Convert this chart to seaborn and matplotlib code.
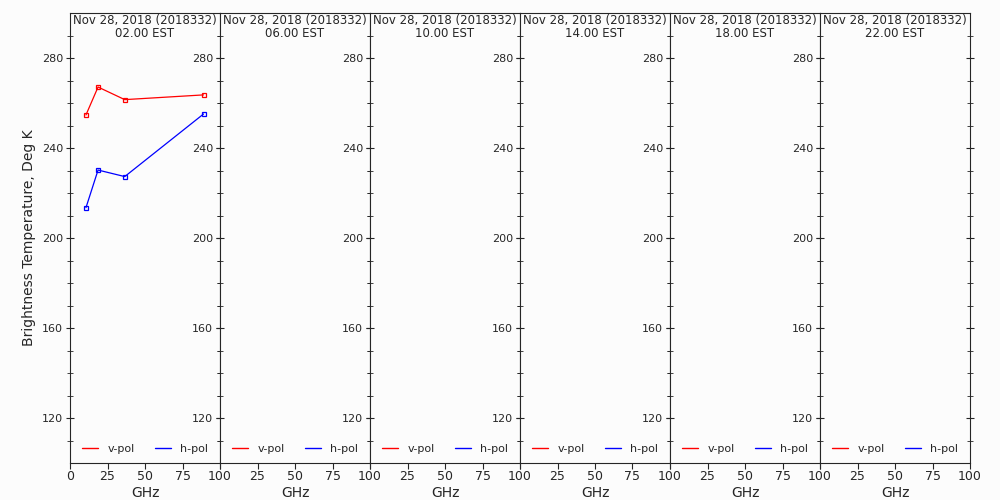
import matplotlib
matplotlib.use('Agg')
import matplotlib.pyplot as plt
from matplotlib.lines import Line2D
import seaborn as sns
import pandas as pd

# AMSR channel frequencies (GHz)
freqs = [10.65, 18.7, 36.5, 89.0]
vpol_02 = [254.7, 267.1, 261.5, 263.6]
hpol_02 = [213.5, 230.2, 227.3, 255.1]

date_label = 'Nov 28, 2018 (2018332)'
times = ['02.00 EST', '06.00 EST', '10.00 EST', '14.00 EST', '18.00 EST', '22.00 EST']

series = {'v-pol': (vpol_02, 'red'), 'h-pol': (hpol_02, 'blue')}

sns.set_style('ticks')
plt.rcParams['font.family'] = ['DejaVu Sans']

fig, axes = plt.subplots(1, 6, figsize=(10, 5), dpi=100, sharey=True)
fig.patch.set_facecolor('#fcfcfc')
fig.subplots_adjust(left=0.07, right=0.97, bottom=0.074, top=0.974, wspace=0)

for i, ax in enumerate(axes):
    ax.set_facecolor('#fcfcfc')
    if i == 0:
        for name, (vals, col) in series.items():
            d = pd.DataFrame({'GHz': freqs, 'Tb': vals})
            sns.lineplot(data=d, x='GHz', y='Tb', color=col,
                         marker='s', markersize=3, markerfacecolor='none',
                         markeredgecolor=col, markeredgewidth=0.9,
                         linewidth=0.9, ax=ax)
    ax.set_xlim(0, 100)
    ax.set_ylim(100, 300)
    ax.set_xticks([0, 25, 50, 75, 100])
    if i > 0:
        ax.set_xticklabels(['', '25', '50', '75', '100'])
    ax.set_yticks([120, 160, 200, 240, 280])
    ax.set_yticks(range(110, 300, 10), minor=True)
    ax.tick_params(axis='y', which='both', direction='inout', left=True, right=True,
                   labelleft=True, labelsize=8, length=6, pad=2)
    ax.tick_params(axis='y', which='minor', length=5)
    ax.tick_params(axis='x', direction='out', length=4, labelsize=9, pad=1)
    for s in ax.spines.values():
        s.set_linewidth(0.8)
    ax.set_xlabel('GHz', fontsize=10, labelpad=2)
    ax.set_ylabel('')
    ax.text(0.5, 0.997, f'{date_label}\n{times[i]}', transform=ax.transAxes,
            ha='center', va='top', fontsize=8.5, linespacing=0.95)
    handles = [Line2D([], [], color='red', lw=1), Line2D([], [], color='blue', lw=1)]
    ax.legend(handles, ['v-pol', 'h-pol'], loc='lower center', ncol=2, frameon=False,
              fontsize=8, handlelength=1.5, columnspacing=1.8, borderaxespad=0.4)

axes[0].set_ylabel('Brightness Temperature, Deg K', fontsize=10)

fig.savefig('out.png', dpi=100, facecolor=fig.get_facecolor())
